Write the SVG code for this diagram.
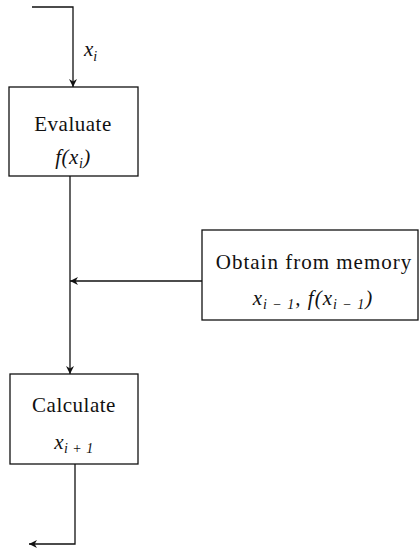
<svg xmlns="http://www.w3.org/2000/svg" width="419" height="551" viewBox="0 0 419 551">
<style>
.box{fill:#fff;stroke:#111;stroke-width:1.3}
.ln{fill:none;stroke:#111;stroke-width:1.3}
.t{font-family:'Liberation Serif','Times New Roman',serif;font-size:21px;fill:#111;text-anchor:middle;letter-spacing:0.5px}
.m{font-family:'Liberation Serif','Times New Roman',serif;font-style:italic;font-size:21px;fill:#111}
.s{font-size:14px}
</style>
<defs>
<marker id="ah" viewBox="0 0 10 10" refX="10" refY="5" markerWidth="8" markerHeight="8" markerUnits="userSpaceOnUse" orient="auto">
<path d="M0,0 L10,5 L0,10 L3,5 Z" fill="#111"/>
</marker>
</defs>
<g id="connectors">
<path class="ln" d="M32,7 H73 V87" marker-end="url(#ah)"/>
<path class="ln" d="M70,176 V374" marker-end="url(#ah)"/>
<path class="ln" d="M202,281 H70" marker-end="url(#ah)"/>
<path class="ln" d="M75,464 V544 H29" marker-end="url(#ah)"/>
<text class="m" x="84" y="56">x<tspan class="s" dy="5">i</tspan></text>
</g>
<g id="evaluate">
<rect class="box" x="9" y="87" width="129" height="89"/>
<text class="t" x="73" y="131">Evaluate</text>
<text class="m" x="73" y="164" text-anchor="middle" style="letter-spacing:0.5px">f(x<tspan class="s" dy="4">i</tspan><tspan dy="-4">)</tspan></text>
</g>
<g id="memory">
<rect class="box" x="202" y="230" width="216" height="90"/>
<text class="t" x="314" y="269" style="letter-spacing:1px">Obtain from memory</text>
<text class="m" x="313" y="305" text-anchor="middle" style="letter-spacing:1px">x<tspan class="s" dy="4">i − 1</tspan><tspan dy="-4">, f(x</tspan><tspan class="s" dy="4">i − 1</tspan><tspan dy="-4">)</tspan></text>
</g>
<g id="calculate">
<rect class="box" x="10" y="374" width="128" height="90"/>
<text class="t" x="74" y="412">Calculate</text>
<text class="m" x="74" y="449" text-anchor="middle" style="letter-spacing:0.5px">x<tspan class="s" dy="4">i + 1</tspan></text>
</g>
</svg>
